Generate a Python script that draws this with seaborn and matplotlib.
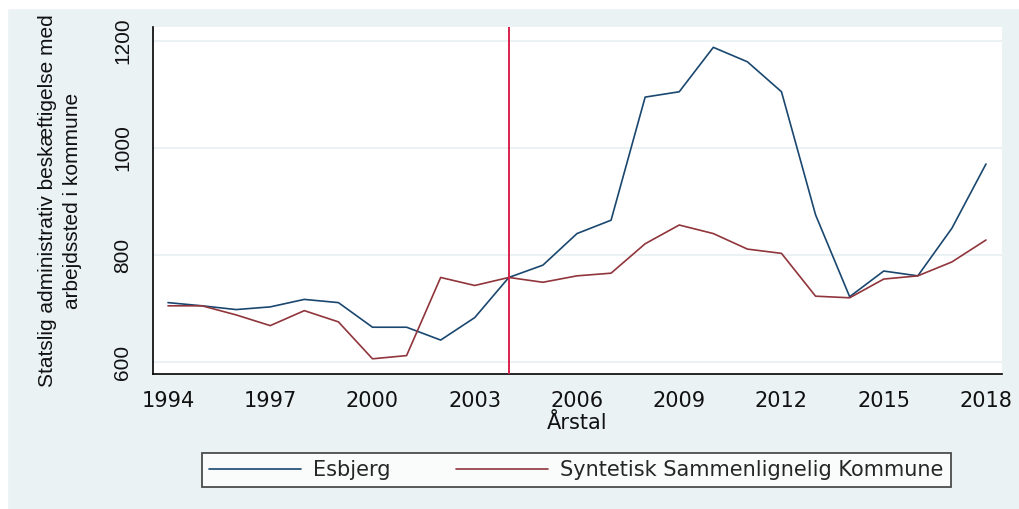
import numpy as np
import pandas as pd
import matplotlib
matplotlib.use("Agg")
import matplotlib.pyplot as plt
from matplotlib.patches import Rectangle
from matplotlib.lines import Line2D
import seaborn as sns

years = list(range(1994, 2019))
esbjerg = [711, 705, 698, 703, 717, 711, 665, 665, 641, 683, 758, 781, 840,
           865, 1095, 1105, 1188, 1161, 1105, 875, 722, 770, 761, 850, 970]
syntetisk = [705, 705, 688, 668, 696, 675, 606, 612, 758, 743, 758, 749, 761,
             766, 821, 856, 840, 811, 803, 723, 720, 755, 761, 787, 828]
series_names = ["Esbjerg", "Syntetisk Sammenlignelig Kommune"]
treatment_year = 2004
xticks = list(range(1994, 2019, 3))
yticks = [600, 800, 1000, 1200]
ylabel = "Statslig administrativ beskæftigelse med\narbejdssted i kommune"
xlabel = "Årstal"

df = pd.DataFrame({
    "year": years * 2,
    "value": esbjerg + syntetisk,
    "series": [series_names[0]] * len(years) + [series_names[1]] * len(years),
})

sns.set_style("white")
plt.rcParams["font.family"] = ["DejaVu Sans"]
narrow = ["Liberation Sans", "DejaVu Sans"]

W, H = 1020, 509
fig = plt.figure(figsize=(W / 100, H / 100), dpi=100)
bg = "#EAF2F3"
fig.patch.set_facecolor(bg)
fig.add_artist(Rectangle((0, 0), 7 / W, 1, transform=fig.transFigure, color="white", zorder=-5))
fig.add_artist(Rectangle((0, 1 - 8 / H), 1, 8 / H, transform=fig.transFigure, color="white", zorder=-5))

left, right, top, bottom = 153, 1002, 27, 374
ax = fig.add_axes([left / W, 1 - bottom / H, (right - left) / W, (bottom - top) / H])
ax.set_facecolor("white")

palette = {series_names[0]: "#1a476f", series_names[1]: "#90353b"}
sns.lineplot(data=df, x="year", y="value", hue="series", palette=palette,
             linewidth=1.2, ax=ax, legend=False)

ax.axvline(treatment_year, color="#D9214B", linewidth=1.4, zorder=3)

ax.set_xlim(1993.56, 2018.47)
ax.set_ylim(577.6, 1226)
ax.set_xticks(xticks)
ax.set_yticks(yticks)
for yt in yticks:
    ax.axhline(yt, color="#EAF2F3", linewidth=1.5, zorder=0)

for s in ["top", "right"]:
    ax.spines[s].set_visible(False)
for s in ["left", "bottom"]:
    ax.spines[s].set_color("black")
    ax.spines[s].set_linewidth(1.2)

ax.tick_params(axis="both", direction="out", length=7, width=1.1, color="black",
               labelsize=15, labelcolor="#111111")
ax.tick_params(axis="x", pad=5)
ax.tick_params(axis="y", pad=15, labelfontfamily="Liberation Sans")
for lab in ax.get_yticklabels():
    lab.set_rotation(90)
    lab.set_va("center")
    lab.set_ha("center")
    lab.set_rotation_mode("default")

ax.set_ylabel(ylabel, fontsize=15, color="#111111", linespacing=1.45, va="center",
              family=narrow)
ax.yaxis.set_label_coords((60 - left) / (right - left), 0.5)
ax.set_xlabel(xlabel, fontsize=15, color="#111111", va="top")
ax.xaxis.set_label_coords((577 - left) / (right - left), (bottom - 413) / (bottom - top))

handles = [Line2D([], [], color=palette[n], linewidth=1.2) for n in series_names]
x0, x1, y0, y1 = 202, 951, 451, 489
leg = fig.legend(handles, series_names, loc="center", ncol=2, mode="expand",
                 bbox_to_anchor=(x0 / W, 1 - y1 / H, (x1 - x0) / W, (y1 - y0) / H),
                 fontsize=15, frameon=True, fancybox=False, handlelength=4.4,
                 handletextpad=0.6, borderaxespad=0, borderpad=0.35)
leg.get_frame().set_edgecolor("#222222")
leg.get_frame().set_linewidth(1.3)
leg.get_frame().set_facecolor("white")

fig.savefig("out.png", dpi=100, facecolor=fig.get_facecolor())
